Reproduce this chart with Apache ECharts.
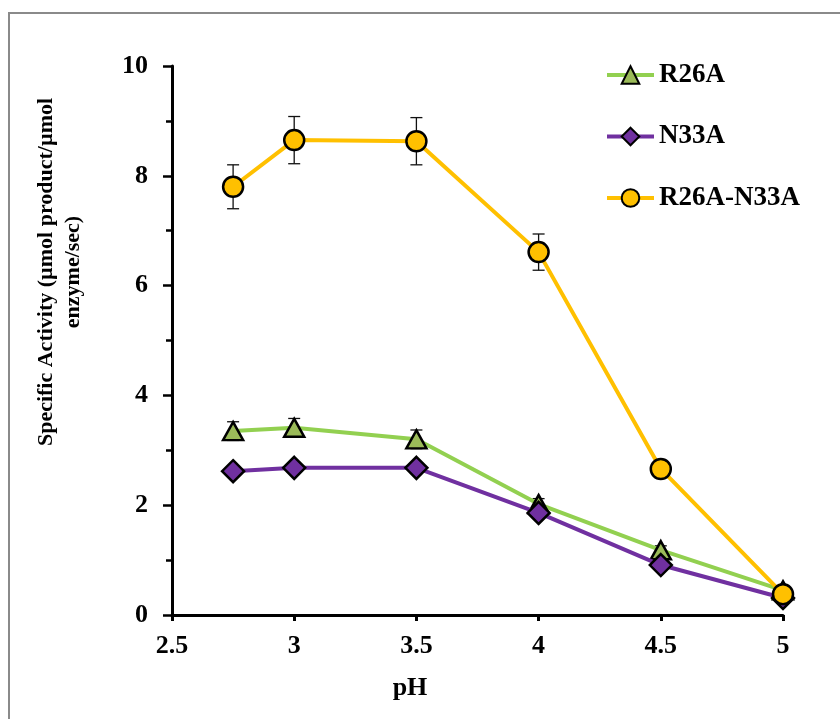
<!DOCTYPE html>
<html>
<head>
<meta charset="utf-8">
<script src="https://cdn.jsdelivr.net/npm/echarts@6/dist/echarts.min.js"></script>
<style>
html,body{margin:0;padding:0;background:#fff;}
#chart{width:840px;height:719px;}
</style>
</head>
<body>
<div id="chart"></div>
<script>
const phValues = [2.75, 3, 3.5, 4, 4.5, 5];
const seriesNames = ['R26A', 'N33A', 'R26A-N33A'];
const r26a = [3.35, 3.41, 3.20, 2.02, 1.18, 0.45];
const n33a = [2.62, 2.68, 2.68, 1.86, 0.91, 0.31];
const r26aN33a = [7.80, 8.65, 8.63, 6.61, 2.66, 0.38];
const r26aErr = [0.17, 0.17, 0.17, 0.10, 0.08, 0.05];
const n33aErr = [0.08, 0.08, 0.08, 0.08, 0.06, 0.04];
const r26aN33aErr = [0.40, 0.43, 0.43, 0.33, 0.10, 0.05];
const yTitle = 'Specific Activity (µmol product/µmol\nenzyme/sec)';
const xTitle = 'pH';

const FONT = '"Liberation Serif", "Times New Roman", serif';

function pts(vals) { return phValues.map((x, i) => [x, vals[i]]); }
function errPts(vals, errs) { return phValues.map((x, i) => [x, vals[i] - errs[i], vals[i] + errs[i]]); }

function errRender(params, api) {
  const x = api.value(0), lo = api.value(1), hi = api.value(2);
  const a = api.coord([x, lo]), b = api.coord([x, hi]);
  const w = 6;
  const st = { stroke: '#111', lineWidth: 1.3 };
  return {
    type: 'group',
    children: [
      { type: 'line', shape: { x1: a[0], y1: a[1], x2: b[0], y2: b[1] }, style: st },
      { type: 'line', shape: { x1: a[0] - w, y1: a[1], x2: a[0] + w, y2: a[1] }, style: st },
      { type: 'line', shape: { x1: b[0] - w, y1: b[1], x2: b[0] + w, y2: b[1] }, style: st }
    ]
  };
}

function errSeries(vals, errs) {
  return {
    type: 'custom', renderItem: errRender, data: errPts(vals, errs),
    encode: { x: 0, y: [1, 2] }, z: 1, silent: true
  };
}

const chart = echarts.init(document.getElementById('chart'), null, { renderer: 'canvas' });
chart.setOption({
  animation: false,
  backgroundColor: '#fff',
  grid: { left: 172, right: 57, top: 66, bottom: 104, containLabel: false },
  xAxis: {
    type: 'value', min: 2.5, max: 5, interval: 0.5,
    axisLine: { show: true, onZero: false, lineStyle: { color: '#000', width: 3 } },
    axisTick: { show: true, inside: false, length: 6, lineStyle: { color: '#000', width: 3 } },
    axisLabel: { margin: 18, color: '#000', fontFamily: FONT, fontWeight: 'bold', fontSize: 26,
      formatter: v => String(v) },
    splitLine: { show: false }
  },
  yAxis: {
    type: 'value', min: 0, max: 10, interval: 2,
    axisLine: { show: true, lineStyle: { color: '#000', width: 3 } },
    axisTick: { show: true, inside: false, length: 9, lineStyle: { color: '#000', width: 2.5 } },
    minorTick: { show: true, splitNumber: 2, length: 6, lineStyle: { color: '#000', width: 2.5 } },
    axisLabel: { margin: 24, color: '#000', fontFamily: FONT, fontWeight: 'bold', fontSize: 26 },
    splitLine: { show: false }
  },
  legend: {
    data: seriesNames,
    orient: 'vertical', left: 605, top: 60, padding: 0,
    itemWidth: 47, itemHeight: 22, itemGap: 31.5,
    lineStyle: { width: 4 },
    textStyle: { color: '#000', fontFamily: FONT, fontWeight: 'bold', fontSize: 27, lineHeight: 30 }
  },
  graphic: [
    { type: 'rect', shape: { x: 9, y: 13, width: 900, height: 800 }, style: { fill: 'none', stroke: '#8a8a8a', lineWidth: 2 }, z: -10, silent: true },
    { type: 'text', x: 60, y: 272, rotation: Math.PI / 2,
      style: { text: yTitle, textAlign: 'center', textVerticalAlign: 'middle', fill: '#000',
        font: 'bold 22px ' + FONT, lineHeight: 27 } },
    { type: 'text', x: 410, y: 688,
      style: { text: xTitle, textAlign: 'center', textVerticalAlign: 'middle', fill: '#000',
        font: 'bold 26px ' + FONT } }
  ],
  series: [
    errSeries(r26a, r26aErr),
    errSeries(n33a, n33aErr),
    errSeries(r26aN33a, r26aN33aErr),
    {
      name: 'R26A', type: 'line', data: pts(r26a), z: 3,
      symbol: 'triangle', symbolSize: [20, 18],
      lineStyle: { color: '#92D050', width: 4 },
      itemStyle: { color: '#9BBB59', borderColor: '#000', borderWidth: 2.5 },
      color: '#92D050'
    },
    {
      name: 'N33A', type: 'line', data: pts(n33a), z: 4,
      symbol: 'diamond', symbolSize: 22,
      lineStyle: { color: '#7030A0', width: 4 },
      itemStyle: { color: '#7030A0', borderColor: '#000', borderWidth: 2.5 },
      color: '#7030A0'
    },
    {
      name: 'R26A-N33A', type: 'line', data: pts(r26aN33a), z: 5,
      symbol: 'circle', symbolSize: 20,
      lineStyle: { color: '#FFC000', width: 4 },
      itemStyle: { color: '#FFC000', borderColor: '#000', borderWidth: 2.5 },
      color: '#FFC000'
    }
  ]
});
</script>
</body>
</html>
